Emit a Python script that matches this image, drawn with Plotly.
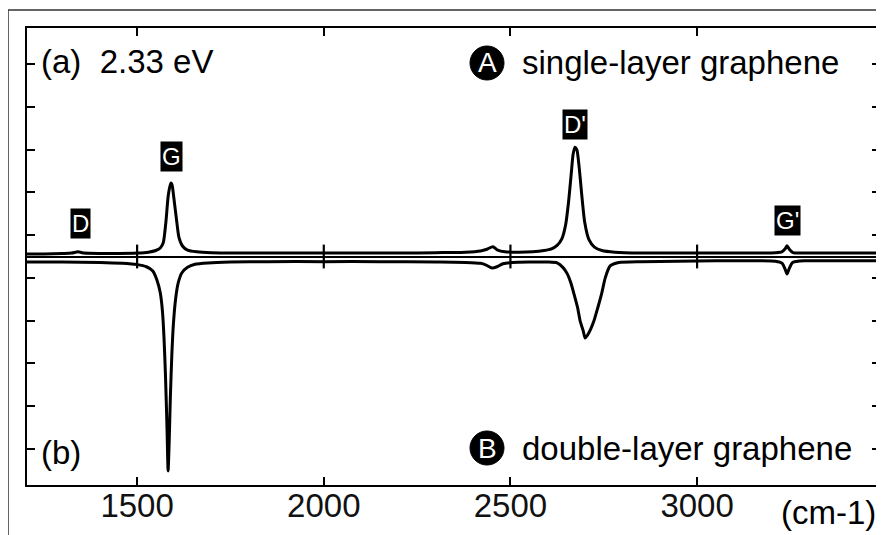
import plotly.graph_objects as go

# ---- data, Raman shift in cm-1, intensity in tick units ----
single_x = [1205, 1250, 1300, 1325, 1342, 1358, 1400, 1450, 1500, 1530, 1550, 1562,
            1570, 1577, 1583, 1588, 1591, 1594, 1598, 1605, 1612, 1622, 1635, 1660,
            1700, 1800, 1900, 2000, 2100, 2200, 2300, 2380, 2420, 2437, 2453, 2466,
            2485, 2520, 2560, 2590, 2610, 2625, 2638, 2648, 2656, 2663, 2668, 2673,
            2678, 2684, 2691, 2699, 2710, 2725, 2745, 2780, 2850, 2950, 3050, 3150,
            3210, 3227, 3236, 3241, 3247, 3257, 3290, 3350, 3420, 3490]
single_y = [0.06, 0.06, 0.07, 0.08, 0.11, 0.08, 0.07, 0.07, 0.08, 0.10, 0.14, 0.20,
            0.32, 0.80, 1.40, 1.65, 1.72, 1.66, 1.40, 0.90, 0.45, 0.24, 0.15, 0.11,
            0.09, 0.08, 0.08, 0.08, 0.08, 0.08, 0.09, 0.10, 0.13, 0.17, 0.23, 0.15,
            0.11, 0.10, 0.11, 0.14, 0.18, 0.26, 0.42, 0.75, 1.30, 1.95, 2.40, 2.56,
            2.50, 2.10, 1.45, 0.80, 0.40, 0.22, 0.14, 0.10, 0.08, 0.08, 0.08, 0.08,
            0.09, 0.11, 0.18, 0.25, 0.17, 0.09, 0.08, 0.08, 0.08, 0.08]

double_x = [1205, 1300, 1400, 1460, 1500, 1525, 1542, 1553, 1562, 1568, 1572, 1576,
            1580, 1583, 1586, 1589, 1593, 1597, 1603, 1610, 1620, 1635, 1655, 1690,
            1750, 1850, 2000, 2150, 2300, 2380, 2420, 2435, 2451, 2464, 2480, 2505,
            2550, 2600, 2625, 2641, 2652, 2662, 2671, 2680, 2687, 2695, 2700, 2706,
            2714, 2724, 2734, 2744, 2754, 2767, 2790, 2850, 2950, 3050, 3150, 3210,
            3228, 3236, 3241, 3246, 3256, 3290, 3380, 3490]
double_y = [-0.13, -0.13, -0.14, -0.16, -0.19, -0.24, -0.34, -0.55, -0.85, -1.30, -1.90, -2.80,
            -4.00, -5.02, -4.30, -3.30, -2.30, -1.60, -1.00, -0.62, -0.38, -0.25, -0.18, -0.15,
            -0.13, -0.12, -0.12, -0.12, -0.13, -0.14, -0.16, -0.20, -0.27, -0.24, -0.17, -0.14,
            -0.13, -0.13, -0.15, -0.26, -0.40, -0.62, -0.90, -1.20, -1.52, -1.74, -1.91, -1.85,
            -1.72, -1.50, -1.20, -0.88, -0.50, -0.22, -0.14, -0.12, -0.11, -0.10, -0.10, -0.11,
            -0.16, -0.30, -0.41, -0.30, -0.14, -0.10, -0.10, -0.10]

x_ticks = [1500, 2000, 2500, 3000]
y_ticks = [-4.5, -3.5, -2.5, -1.5, -0.5, 0.5, 1.5, 2.5, 3.5, 4.5]

peak_labels = ["D", "G", "D'", "G'"]
peak_label_x = [1347, 1591, 2673, 3242]
peak_label_y = [0.77, 2.34, 3.09, 0.85]

FONT = "Liberation Sans, Arial, sans-serif"

# the page body has an 8px margin, so the figure div starts at (8, 8) in the window
OFF = 8
W, H = 884 - OFF, 535 - OFF
PL, PR, PT, PB = 27 - OFF, 880 - OFF, 28 - OFF, 485 - OFF   # plot area in div pixels
PW, PH = PR - PL, PB - PT


def px_x(xw):
    return (xw - OFF - PL) / PW


def px_y(yw):
    return 1 - (yw - OFF - PT) / PH


fig = go.Figure()
fig.add_trace(go.Scatter(x=single_x, y=single_y, mode="lines",
                         line=dict(color="black", width=3, shape="spline", smoothing=0.6),
                         hoverinfo="skip", showlegend=False))
fig.add_trace(go.Scatter(x=double_x, y=double_y, mode="lines",
                         line=dict(color="black", width=3, shape="spline", smoothing=0.6),
                         hoverinfo="skip", showlegend=False))
# tick marks crossing the zero line at every x tick
fig.add_trace(go.Scatter(x=x_ticks, y=[0] * len(x_ticks), mode="markers",
                         marker=dict(symbol="line-ns-open", size=17, color="black",
                                     line=dict(color="black", width=2.2)),
                         hoverinfo="skip", showlegend=False, cliponaxis=False))

xr = [1205, 3490]
fig.update_layout(
    width=W, height=H,
    margin=dict(l=PL, r=W - PR, t=PT, b=H - PB, autoexpand=False),
    paper_bgcolor="white", plot_bgcolor="white",
    font=dict(family=FONT, color="black"),
    xaxis=dict(range=xr, tickvals=x_ticks, ticks="inside", ticklen=8, tickwidth=2,
               tickcolor="black", showline=True, linewidth=2.2, linecolor="black",
               mirror="ticks", showgrid=False, zeroline=False, automargin=False,
               ticklabelstandoff=-10,
               tickfont=dict(size=33, family=FONT, color="#111")),
    yaxis=dict(range=[-5.35, 5.35], tickvals=y_ticks, ticks="inside", ticklen=8, tickwidth=2,
               tickcolor="black", showline=True, linewidth=2.2, linecolor="black",
               mirror="ticks", showticklabels=False, showgrid=False, automargin=False,
               zeroline=True, zerolinecolor="black", zerolinewidth=1.8),
)

# outer frame
fig.add_shape(type="rect", xref="paper", yref="paper",
              x0=px_x(8), x1=px_x(900), y0=px_y(560), y1=px_y(10),
              line=dict(color="#333", width=1.5), layer="below")

# peak labels: white on black boxes
for t, px, py in zip(peak_labels, peak_label_x, peak_label_y):
    fig.add_annotation(x=px, y=py, text=t, showarrow=False,
                       font=dict(size=24, color="white", family=FONT),
                       bgcolor="black", borderpad=1)

# panel texts
fig.add_annotation(xref="paper", yref="paper", x=px_x(39), y=px_y(62),
                   xanchor="left", yanchor="middle", showarrow=False,
                   text="(a)  2.33 eV", font=dict(size=33, family=FONT))
fig.add_annotation(xref="paper", yref="paper", x=px_x(39), y=px_y(452),
                   xanchor="left", yanchor="middle", showarrow=False,
                   text="(b)", font=dict(size=33, family=FONT))

sample_names = ["single-layer graphene", "double-layer graphene"]
sample_marks = ["A", "B"]
sample_y_px = [63, 448]
for name, mark, ypx in zip(sample_names, sample_marks, sample_y_px):
    yp = px_y(ypx)
    cx = px_x(487)
    fig.add_shape(type="circle", xref="paper", yref="paper", xsizemode="pixel", ysizemode="pixel",
                  xanchor=cx, yanchor=yp, x0=-17, x1=17, y0=-17, y1=17,
                  fillcolor="black", line=dict(color="black", width=1))
    fig.add_annotation(xref="paper", yref="paper", x=cx, y=yp, xanchor="center", yanchor="middle",
                       showarrow=False, text=mark, font=dict(size=28, color="white", family=FONT))
    fig.add_annotation(xref="paper", yref="paper", x=px_x(520), y=yp, xanchor="left",
                       yanchor="middle", showarrow=False, text=name, font=dict(size=33, family=FONT))

fig.add_annotation(xref="paper", yref="paper", x=px_x(878), y=px_y(512),
                   xanchor="right", yanchor="middle", showarrow=False,
                   text="(cm-1)", font=dict(size=33, family=FONT))

fig.write_html("out.html")
